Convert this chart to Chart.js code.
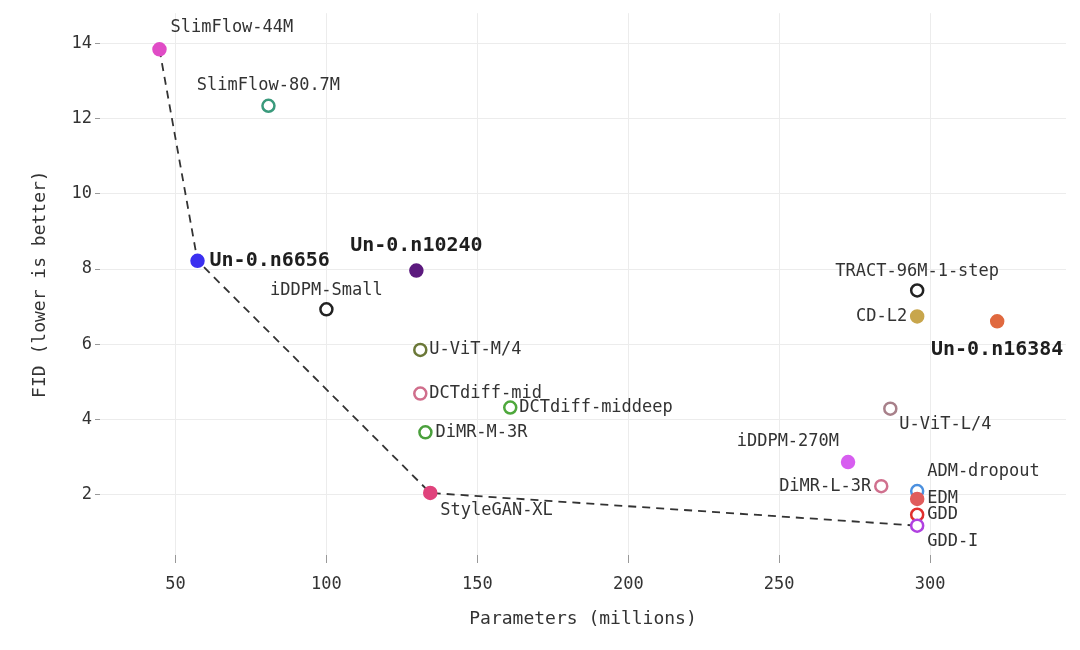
<!DOCTYPE html>
<html>
<head>
<meta charset="utf-8">
<script src="https://cdn.jsdelivr.net/npm/chart.js@4"></script>
<style>
  body { margin: 0; background: #fff; }
  #wrap { width: 1080px; height: 650px; }
</style>
</head>
<body>
<div id="wrap"><canvas id="fidChart"></canvas></div>
<script>
// data
const models = ['SlimFlow-44M', 'SlimFlow-80.7M', 'Un-0.n6656', 'Un-0.n10240', 'iDDPM-Small',
  'U-ViT-M/4', 'DCTdiff-mid', 'DCTdiff-middeep', 'DiMR-M-3R', 'StyleGAN-XL',
  'TRACT-96M-1-step', 'CD-L2', 'Un-0.n16384', 'U-ViT-L/4', 'iDDPM-270M',
  'DiMR-L-3R', 'ADM-dropout', 'EDM', 'GDD', 'GDD-I'];
const params = [44.7, 80.8, 57.3, 129.8, 100, 131.1, 131.1, 160.9, 132.8, 134.4,
  295.7, 295.7, 322.2, 286.8, 272.8, 283.8, 295.7, 295.7, 295.7, 295.7];
const fid = [13.84, 12.34, 8.22, 7.96, 6.93, 5.85, 4.69, 4.32, 3.66, 2.05,
  7.43, 6.74, 6.61, 4.29, 2.87, 2.23, 2.10, 1.89, 1.47, 1.18];
const frontier = ['SlimFlow-44M', 'Un-0.n6656', 'StyleGAN-XL', 'GDD-I'];
const xTicks = [50, 100, 150, 200, 250, 300];
const yTicks = [2, 4, 6, 8, 10, 12, 14];

// styles
const colors = ['#e04cc6', '#3a9a7c', '#3b30f0', '#5c1a7e', '#222222', '#6b7838', '#d06e8c',
  '#4ea83c', '#4aa03c', '#e0437c', '#222222', '#c8a64c', '#e0693f', '#a8808a', '#d75ef0',
  '#d0708e', '#4b90df', '#e05c5c', '#e0302e', '#b040e0'];
const filled = [true, false, true, true, false, false, false, false, false, true,
  false, true, true, false, true, false, false, true, false, false];
const bold = ['Un-0.n6656', 'Un-0.n10240', 'Un-0.n16384'];
// [align, dx, dy] in pixels from the point
const labelPos = [['left', 11, -22], ['center', 0, -20], ['left', 12, 0], ['center', 0, -25],
  ['center', 0, -19], ['left', 9, 0], ['left', 9, 0], ['left', 9, 0], ['left', 10, 0],
  ['left', 10, 18], ['center', 0, -19], ['right', -10, 0], ['center', 0, 28], ['left', 9, 16],
  ['right', -9, -20], ['right', -10, 0], ['left', 10, -19], ['left', 10, 0], ['left', 10, 0],
  ['left', 10, 16]];

const mono = '"DejaVu Sans Mono", "Liberation Mono", monospace';

const labelPlugin = {
  id: 'pointLabels',
  afterDatasetsDraw(chart) {
    const ctx = chart.ctx;
    const meta = chart.getDatasetMeta(0);
    ctx.save();
    ctx.textBaseline = 'middle';
    meta.data.forEach((pt, i) => {
      const [align, dx, dy] = labelPos[i];
      const isBold = bold.includes(models[i]);
      ctx.font = (isBold ? 'bold 20px ' : '17px ') + mono;
      ctx.fillStyle = isBold ? '#1e1e1e' : '#333';
      ctx.textAlign = align;
      ctx.fillText(models[i], pt.x + dx, pt.y + dy);
    });
    ctx.restore();
  }
};

document.addEventListener('DOMContentLoaded', () => {
  const ctx = document.getElementById('fidChart').getContext('2d');
  const points = models.map((m, i) => ({ x: params[i], y: fid[i] }));
  const linePts = frontier.map(m => points[models.indexOf(m)]);

  new Chart(ctx, {
    type: 'scatter',
    data: {
      datasets: [{
        data: points,
        pointRadius: 6,
        pointHoverRadius: 6,
        pointBorderWidth: 2.5,
        pointBorderColor: colors,
        pointBackgroundColor: colors.map((c, i) => filled[i] ? c : '#fff')
      }, {
        data: linePts,
        showLine: true,
        borderColor: '#333',
        borderWidth: 1.8,
        borderDash: [8, 6],
        pointRadius: 0,
        fill: false
      }]
    },
    options: {
      responsive: true,
      maintainAspectRatio: false,
      animation: false,
      layout: { padding: { top: 8, right: 14, left: 0, bottom: 16 } },
      plugins: { legend: { display: false }, tooltip: { enabled: false } },
      scales: {
        x: {
          min: 25, max: 345,
          afterBuildTicks: s => { s.ticks = xTicks.map(v => ({ value: v })); },
          afterFit: s => { s.height = 79; },
          border: { display: false },
          grid: { color: '#ececec', tickColor: '#999', tickLength: 8 },
          ticks: { color: '#333', font: { family: mono, size: 17 }, padding: 11 },
          title: { display: true, text: 'Parameters (millions)', color: '#333',
            font: { family: mono, size: 18 }, padding: { top: 8 } }
        },
        y: {
          min: 0.4, max: 14.8,
          afterBuildTicks: s => { s.ticks = yTicks.map(v => ({ value: v })); },
          afterFit: s => { s.width = 100; },
          border: { display: false },
          grid: { color: '#ececec', tickColor: '#999', tickLength: 5 },
          ticks: { color: '#333', font: { family: mono, size: 17 }, padding: 3 },
          title: { display: true, text: 'FID (lower is better)', color: '#333',
            font: { family: mono, size: 18 }, padding: { top: 30, bottom: 10 } }
        }
      }
    },
    plugins: [labelPlugin]
  });
});
</script>
</body>
</html>
